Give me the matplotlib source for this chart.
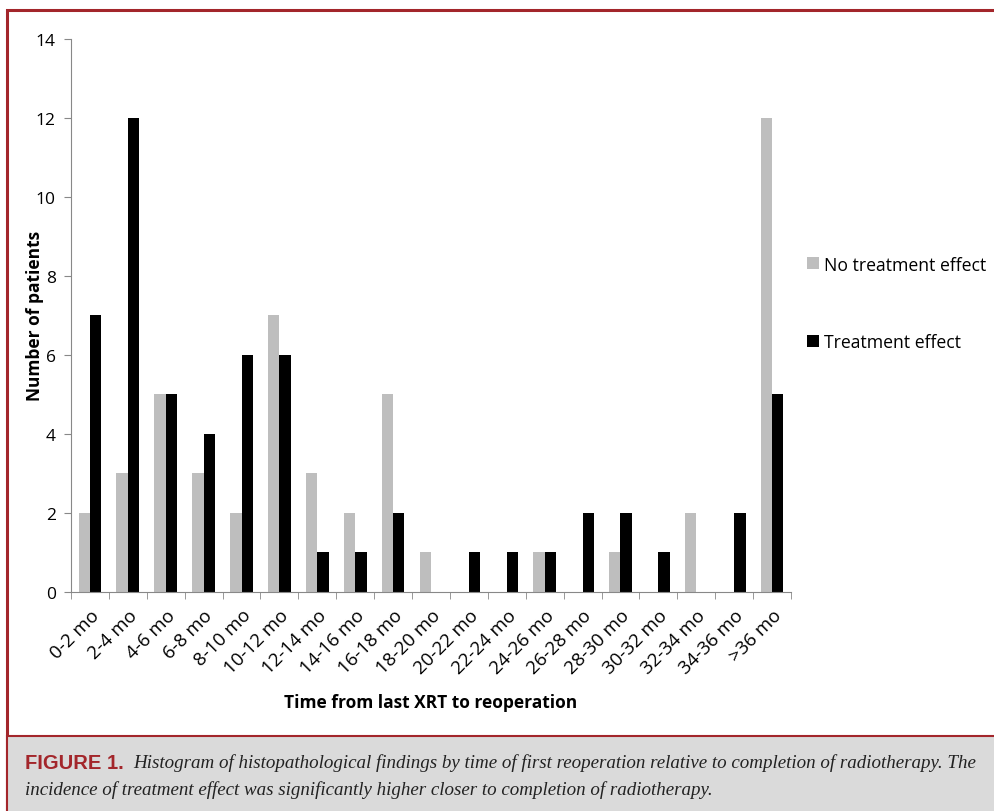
import numpy as np
import matplotlib.pyplot as plt
from matplotlib.patches import Rectangle

# Data
categories = ['0-2 mo', '2-4 mo', '4-6 mo', '6-8 mo', '8-10 mo', '10-12 mo', '12-14 mo',
              '14-16 mo', '16-18 mo', '18-20 mo', '20-22 mo', '22-24 mo', '24-26 mo',
              '26-28 mo', '28-30 mo', '30-32 mo', '32-34 mo', '34-36 mo', '>36 mo']
no_effect = [2, 3, 5, 3, 2, 7, 3, 2, 5, 1, 0, 0, 1, 0, 1, 0, 2, 0, 12]
effect = [7, 12, 5, 4, 6, 6, 1, 1, 2, 0, 1, 1, 1, 2, 2, 1, 0, 2, 5]
y_ticks = [0, 2, 4, 6, 8, 10, 12, 14]

plt.rcParams['font.family'] = ['Open Sans', 'DejaVu Sans']

fig = plt.figure(figsize=(9.94, 8.12), dpi=100)
ax = fig.add_axes([0.0714, 0.270, 0.7244, 0.681])

x = np.arange(len(categories))
w = 0.3
ax.bar(x - w / 2, no_effect, w, color='#bebebe', label='No treatment effect')
ax.bar(x + w / 2, effect, w, color='black', label='Treatment effect')

ax.set_xlim(-0.5, len(categories) - 0.5)
ax.set_ylim(0, 14)
ax.set_yticks(y_ticks)
ax.set_xticks(x)
ax.set_xticklabels(categories, rotation=45, ha='right', rotation_mode='anchor', fontsize=13.5)
ax.tick_params(axis='x', length=0, pad=10)
ax.set_xticks(np.arange(len(categories) + 1) - 0.5, minor=True)
ax.tick_params(axis='x', which='minor', length=5, color='#888888')
ax.tick_params(axis='y', length=5, color='#888888', labelsize=12.5, pad=6)
for s in ['top', 'right']:
    ax.spines[s].set_visible(False)
for s in ['left', 'bottom']:
    ax.spines[s].set_color('#888888')

ax.set_ylabel('Number of patients', fontsize=12.5, fontweight='bold')
ax.yaxis.set_label_coords(-0.038, 0.5)
ax.set_xlabel('Time from last XRT to reoperation', fontsize=12.5, fontweight='bold', labelpad=12)

fig.legend(loc='center left', bbox_to_anchor=(0.796, 0.625), frameon=False, fontsize=12.7,
           handlelength=0.65, handleheight=0.65, handletextpad=0.3, labelspacing=3.4)

# frame and caption box
red = '#a3262b'
fig.patches.append(Rectangle((0.007, -0.05), 1.1, 1.0365, transform=fig.transFigure,
                             fill=False, edgecolor=red, linewidth=2.2))
fig.patches.append(Rectangle((0.007, -0.05), 1.1, 0.1424, transform=fig.transFigure,
                             facecolor='#dadada', edgecolor=red, linewidth=1.5))

fig.text(0.025, 0.060, 'FIGURE 1.', color=red, fontsize=14.5, fontweight='bold',
         family=['Liberation Sans Narrow', 'Liberation Sans'], va='center')
fig.text(0.134, 0.060, 'Histogram of histopathological findings by time of first reoperation relative to completion of radiotherapy. The',
         fontsize=13.7, style='italic', family='Liberation Serif', va='center', color='#222222')
fig.text(0.025, 0.027, 'incidence of treatment effect was significantly higher closer to completion of radiotherapy.',
         fontsize=13.7, style='italic', family='Liberation Serif', va='center', color='#222222')

fig.savefig('out.png', dpi=100)
